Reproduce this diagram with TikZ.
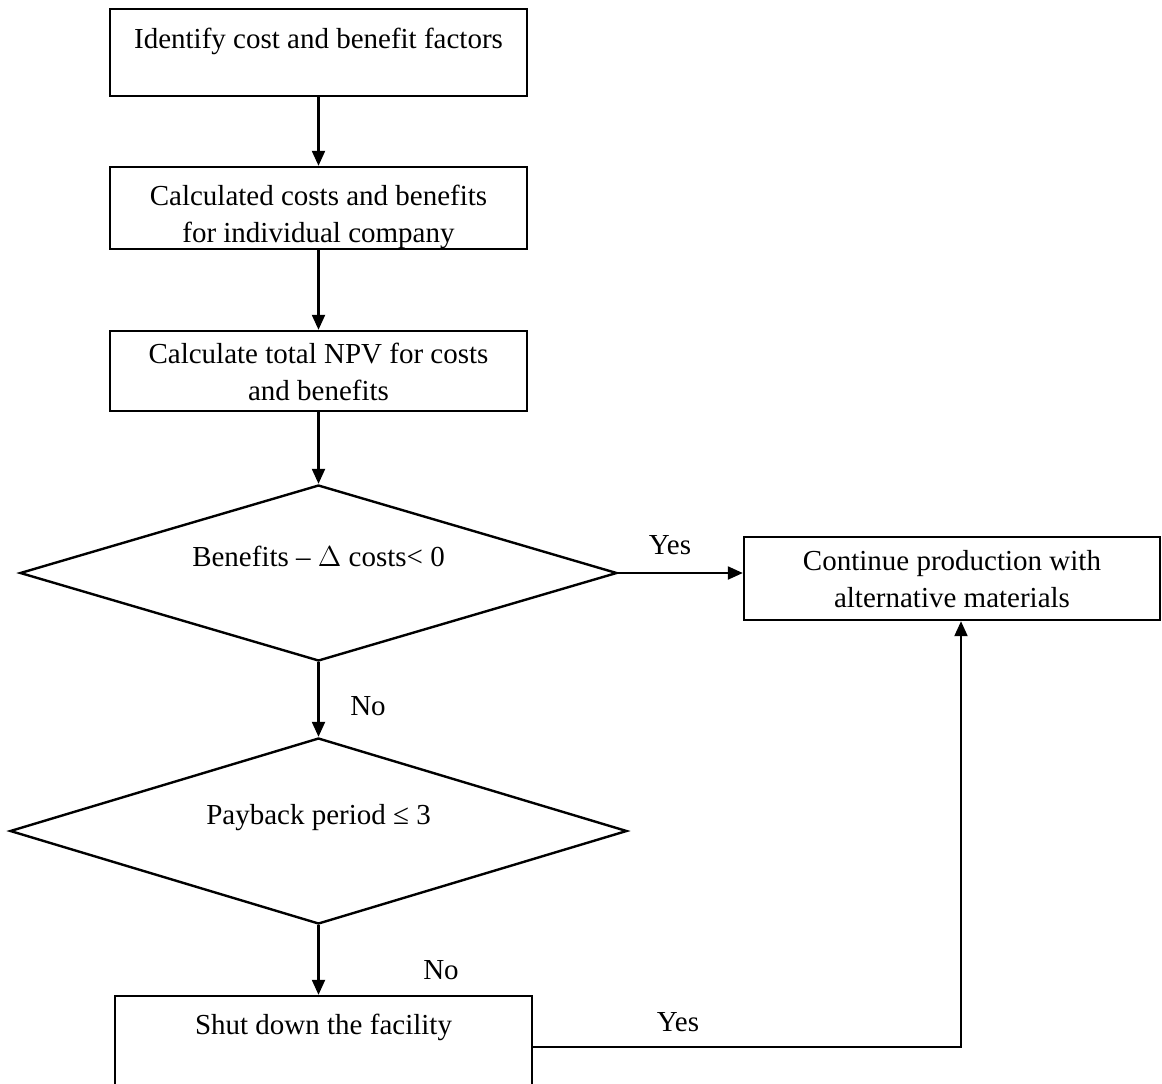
\documentclass[tikz,border=0pt]{standalone}
\usepackage{fontspec}
\setmainfont{Liberation Serif}
\usetikzlibrary{shapes.geometric,arrows.meta}
\begin{document}
\begin{tikzpicture}[x=0.5pt,y=-0.5pt,font=\fontsize{14.5}{18.5}\selectfont,
 box/.style={draw,line width=1.2pt,minimum width=208.5pt,inner xsep=2pt,inner ysep=0pt,align=center},
 decision/.style={draw,diamond,aspect=3.4,line width=1.2pt,inner sep=0pt,text height=6pt,text depth=13pt},
 flow/.style={line width=1.1pt,-{Triangle[length=7.5pt,width=6.5pt]}}]

\useasboundingbox (0,0) rectangle (1162,1083);

\node[box,text height=19.5pt,text depth=24pt] (ident) at (318.5,52.5) {Identify cost and benefit factors};
\node[box,text height=37.5pt,text depth=3.5pt] (calc) at (318.5,208) {Calculated costs and benefits\\for individual company};
\node[box,text height=34.5pt,text depth=5.5pt] (npv) at (318.5,371) {Calculate total NPV for costs\\and benefits};
\node[decision,minimum width=298.5pt,minimum height=88pt] (diff) at (318.5,573) {Benefits -- $\Delta$ costs< 0};
\node[box,minimum width=208pt,text height=35pt,text depth=6.5pt] (cont) at (952,578.5) {Continue production with\\alternative materials};
\node[decision,minimum width=308.5pt,minimum height=93pt] (payb) at (318.5,831) {Payback period ≤ 3};
\node[box,text height=19pt,text depth=38pt] (shut) at (323.5,1053) {Shut down the facility};

\node (yes1) at (670,545) {Yes};
\node (no1) at (368,706) {No};
\node (no2) at (441,970) {No};
\node (yes2) at (678,1022) {Yes};

\coordinate (turn) at (961,1047);

\draw[flow] (ident) -- (calc);
\draw[flow] (calc) -- (npv);
\draw[flow] (npv) -- (diff);
\draw[flow] (diff.east) -- (cont.west |- diff.east);
\draw[flow] (diff) -- (payb);
\draw[flow] (payb.south) -- (payb.south |- shut.north);
\draw[flow] (shut.east |- turn) -- (turn) -- (turn |- cont.south);
\end{tikzpicture}
\end{document}
